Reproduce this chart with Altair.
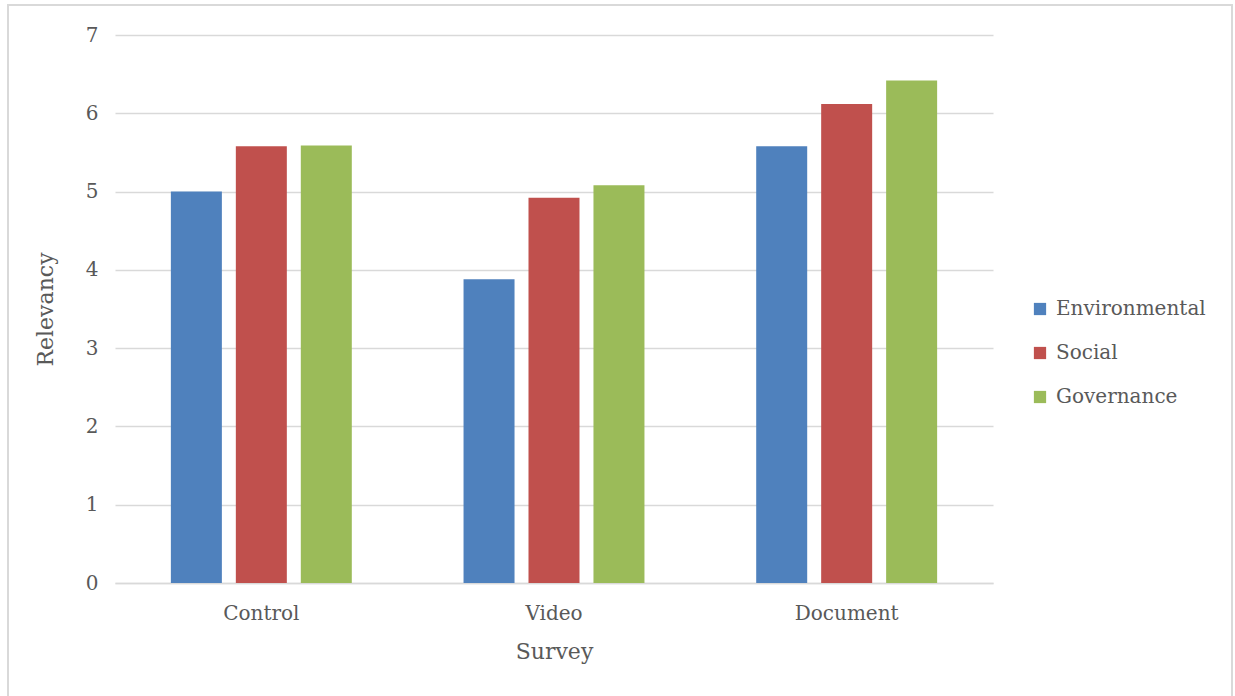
import altair as alt
import pandas as pd

surveys = ["Control", "Video", "Document"]
dimensions = ["Environmental", "Social", "Governance"]
environmental = [5.00, 3.88, 5.58]
social = [5.58, 4.92, 6.12]
governance = [5.59, 5.08, 6.42]
colors = ["#4f81bd", "#c0504d", "#9bbb59"]

rows = []
for i, s in enumerate(surveys):
    for d, vals in zip(dimensions, [environmental, social, governance]):
        rows.append({"Survey": s, "Dimension": d, "Relevancy": vals[i]})
df = pd.DataFrame(rows)

FONT = "DejaVu Serif"
GREY = "#595959"

bars = alt.Chart(df).mark_bar().encode(
    x=alt.X("Survey:N", sort=surveys,
            scale=alt.Scale(paddingInner=0, paddingOuter=0),
            axis=alt.Axis(title="Survey", labelAngle=0, ticks=False, domainColor="#d9d9d9",
                          domainWidth=1.5, labelPadding=20, titlePadding=18)),
    xOffset=alt.XOffset("Dimension:N", sort=dimensions,
                        scale=alt.Scale(paddingInner=0.215, paddingOuter=0.86)),
    y=alt.Y("Relevancy:Q", scale=alt.Scale(domain=[0, 7], nice=False),
            axis=alt.Axis(title="Relevancy", values=[0, 1, 2, 3, 4, 5, 6, 7], labelOverlap=False,
                          domain=False, ticks=False, gridColor="#d9d9d9", gridWidth=1.5,
                          labelPadding=17, titlePadding=28)),
    color=alt.Color("Dimension:N", sort=dimensions,
                    scale=alt.Scale(domain=dimensions, range=colors),
                    legend=alt.Legend(title=None, orient="none", legendX=915, legendY=264,
                                      symbolType="square", symbolSize=150, symbolStrokeWidth=0,
                                      rowPadding=24, labelOffset=6)),
)

border = alt.Chart(df).mark_rect(fill=None, stroke="#d9d9d9", strokeWidth=2).encode(
    x=alt.value(-107), x2=alt.value(1117), y=alt.value(-30), y2=alt.value(665)
)

chart = alt.layer(border, bars).properties(
    width=878, height=548,
    autosize=alt.AutoSizeParams(type="none"),
    padding={"left": 115, "top": 35, "right": 242, "bottom": 113},
).configure_view(stroke=None).configure_axis(
    labelFont=FONT, titleFont=FONT, labelColor=GREY, titleColor=GREY, titleFontWeight="normal",
    labelFontSize=20, titleFontSize=22
).configure_legend(labelFont=FONT, labelColor=GREY, labelFontSize=20)

chart.save("out.html", embed_options={"renderer": "svg", "actions": False})
